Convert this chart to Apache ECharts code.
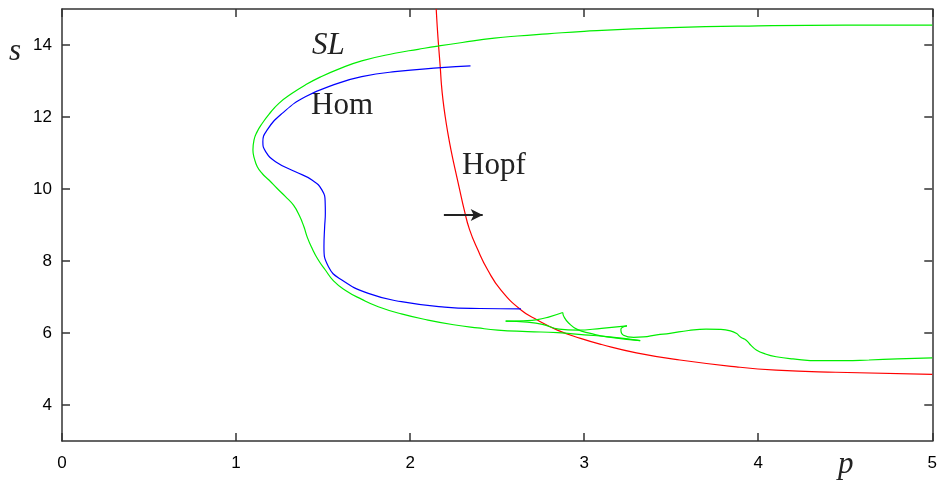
<!DOCTYPE html>
<html>
<head>
<meta charset="utf-8">
<script src="https://cdn.jsdelivr.net/npm/echarts@6/dist/echarts.min.js"></script>
<style>html,body{margin:0;padding:0;background:#fff}#c{width:940px;height:485px}</style>
</head>
<body>
<div id="c"></div>
<script>
// tick labels
var xTicks = [0, 1, 2, 3, 4, 5];
var yTicks = [4, 6, 8, 10, 12, 14];

// Hopf curve [p, s]
var hopf = [[2.150,15.0],[2.156,14.5],[2.164,13.95],[2.173,13.40],[2.180,12.9],[2.189,12.47],[2.202,12.0],[2.217,11.55],[2.235,11.08],[2.257,10.58],[2.283,10.02],[2.311,9.42],[2.341,8.88],[2.389,8.31],[2.446,7.75],[2.522,7.19],[2.637,6.64],[2.731,6.36],[2.846,6.08],[2.979,5.85],[3.10,5.68],[3.30,5.45],[3.55,5.25],[3.874,5.06],[4.103,4.97],[4.446,4.91],[5.0,4.85]];

// Homoclinic curve
var hom = [[2.637,6.67],[2.40,6.68],[2.198,6.72],[1.95,6.87],[1.76,7.10],[1.608,7.47],[1.531,7.84],[1.505,8.40],[1.509,8.95],[1.513,9.33],[1.512,9.62],[1.494,9.97],[1.436,10.25],[1.341,10.48],[1.227,10.76],[1.17,11.04],[1.154,11.31],[1.179,11.64],[1.265,12.10],[1.398,12.56],[1.589,12.94],[1.722,13.12],[1.912,13.26],[2.179,13.37],[2.347,13.42]];

// Saddle-node of limit cycles curve, split at cusps
var slMain = [[5.0,14.55],[4.5,14.55],[4.0,14.53],[3.5,14.48],[3.0,14.38],[2.789,14.31],[2.617,14.25],[2.484,14.19],[2.30,14.07],[2.16,13.97],[2.046,13.88],[1.912,13.77],[1.722,13.56],[1.589,13.33],[1.48,13.10],[1.398,12.89],[1.32,12.65],[1.246,12.38],[1.19,12.08],[1.150,11.82],[1.12,11.58],[1.103,11.36],[1.097,11.08],[1.105,10.85],[1.122,10.62],[1.15,10.43],[1.189,10.25],[1.235,10.02],[1.284,9.79],[1.33,9.55],[1.365,9.25],[1.39,8.95],[1.41,8.65],[1.436,8.36],[1.47,8.05],[1.513,7.75],[1.56,7.45],[1.627,7.19],[1.72,6.94],[1.817,6.73],[1.95,6.53],[2.103,6.36],[2.25,6.23],[2.389,6.14],[2.503,6.08],[2.674,6.04],[2.846,6.01],[3.0,5.95],[3.131,5.90],[3.322,5.79]];
var slTail1 = [[3.322,5.79],[3.131,5.89],[3.036,5.99],[2.96,6.10],[2.912,6.27],[2.884,6.45],[2.877,6.57]];
var slTail2 = [[2.877,6.57],[2.80,6.45],[2.731,6.37],[2.65,6.34],[2.549,6.33]];
var slTail3 = [[2.549,6.33],[2.674,6.30],[2.76,6.24],[2.855,6.11],[2.96,6.08],[3.10,6.13],[3.246,6.20]];
var slTail4 = [[3.246,6.20],[3.211,6.10],[3.226,5.94],[3.284,5.88],[3.34,5.89],[3.417,5.95],[3.493,5.99],[3.60,6.07],[3.70,6.11],[3.78,6.10],[3.84,6.06],[3.874,5.99],[3.90,5.88],[3.931,5.80],[3.96,5.65],[3.989,5.53],[4.04,5.42],[4.103,5.34],[4.20,5.28],[4.35,5.23],[4.50,5.23],[4.636,5.25],[4.80,5.28],[5.0,5.31]];

// arrow
var arrowFrom = [2.194, 9.28];
var arrowTo = [2.417, 9.28];

var chart = echarts.init(document.getElementById('c'), null, {renderer: 'canvas'});
var axisCol = '#333';
var labelFont = {fontFamily: 'Liberation Sans', fontSize: 17, color: '#000'};
function xAx(pos, show) {
  return {
    type: 'value', position: pos, min: 0, max: 5,
    axisLine: {show: true, onZero: false, lineStyle: {color: axisCol, width: 1.5}},
    axisTick: {show: true, inside: true, length: 8, customValues: xTicks, lineStyle: {color: axisCol, width: 1.5}},
    axisLabel: Object.assign({show: show, margin: 14, customValues: xTicks}, labelFont),
    splitLine: {show: false}
  };
}
function yAx(pos, show) {
  return {
    type: 'value', position: pos, min: 3, max: 15,
    axisLine: {show: true, onZero: false, lineStyle: {color: axisCol, width: 1.5}},
    axisTick: {show: true, inside: true, length: 8, customValues: yTicks, lineStyle: {color: axisCol, width: 1.5}},
    axisLabel: Object.assign({show: show, margin: 10, customValues: yTicks}, labelFont),
    splitLine: {show: false}
  };
}
function curve(name, data, color, extra) {
  return Object.assign({
    name: name, type: 'line', data: data, smooth: 0.5, symbol: 'none',
    lineStyle: {color: color, width: 1.2}, silent: true, z: 3
  }, extra || {});
}
var txtStyle = function (t, x, y, italic) {
  return {type: 'text', x: x, y: y, style: {text: t, fill: '#222', font: (italic ? 'italic ' : '') + '31px "Liberation Serif"', verticalAlign: 'middle'}};
};
chart.setOption({
  animation: false,
  grid: {left: 62, right: 4, top: 9, bottom: 44, containLabel: false},
  xAxis: [xAx('bottom', true), xAx('top', false)],
  yAxis: [yAx('left', true), yAx('right', false)],
  series: [
    curve('Hopf', hopf, '#ff0000', {
      markLine: {
        silent: true, symbol: ['none', 'arrow'], symbolSize: [9, 12],
        label: {show: false},
        lineStyle: {color: '#222', width: 2, type: 'solid'},
        data: [[{coord: arrowFrom}, {coord: arrowTo}]]
      }
    }),
    curve('Hom', hom, '#0000ff'),
    curve('SL', slMain, '#00ee00'),
    curve('SL', slTail1, '#00ee00'),
    curve('SL', slTail2, '#00ee00'),
    curve('SL', slTail3, '#00ee00'),
    curve('SL', slTail4, '#00ee00')
  ],
  graphic: [
    txtStyle('SL', 312, 46, true),
    txtStyle('Hom', 311, 106, false),
    txtStyle('Hopf', 462, 166, false),
    txtStyle('s', 9, 52, true),
    txtStyle('p', 838, 465, true)
  ]
});
</script>
</body>
</html>
